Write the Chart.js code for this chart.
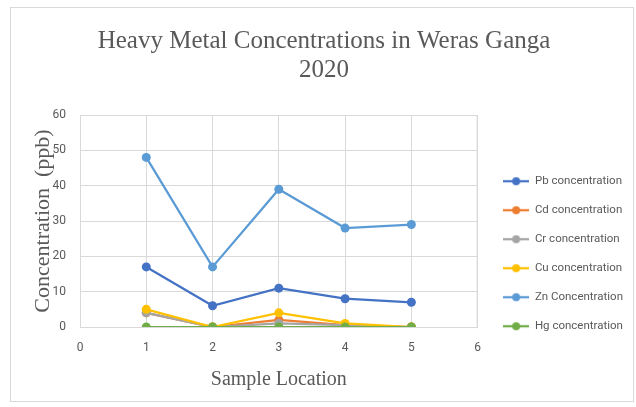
<!DOCTYPE html>
<html>
<head>
<meta charset="utf-8">
<script src="https://cdn.jsdelivr.net/npm/chart.js@4/dist/chart.umd.min.js"></script>
<style>
  html, body { margin: 0; padding: 0; background: #ffffff; }
  #frame { position: absolute; left: 10px; top: 7px; width: 622px; height: 393px; border: 1px solid #d9d9d9; }
  #wrap { position: absolute; left: 0; top: 0; width: 636px; height: 407px; }
</style>
</head>
<body>
<div id="frame"></div>
<div id="wrap"><canvas id="c" width="636" height="407"></canvas></div>
<script>
// Sample locations along the river and measured concentrations (ppb)
const locations = [1, 2, 3, 4, 5];
const pb = [17, 6, 11, 8, 7];
const cd = [4, 0, 2, 0.5, 0];
const cr = [4, 0, 1, 0.5, 0];
const cu = [5, 0, 4, 1, 0];
const zn = [48, 17, 39, 28, 29];
const hg = [0, 0, 0, 0, 0];

const seriesNames = ['Pb concentration', 'Cd concentration', 'Cr concentration',
                     'Cu concentration', 'Zn Concentration', 'Hg concentration'];
const seriesValues = [pb, cd, cr, cu, zn, hg];
const seriesColors = ['#4472C4', '#ED7D31', '#A5A5A5', '#FFC000', '#5B9BD5', '#70AD47'];

const xTicks = [0, 1, 2, 3, 4, 5, 6];
const yTicks = [0, 10, 20, 30, 40, 50, 60];

const sans = "'Roboto', 'Liberation Sans', sans-serif";
const serif = "'Liberation Serif', 'DejaVu Serif', serif";
const tickFont = { family: sans, size: 12 };

// Legend swatch: a short line with a dot in the middle
function swatch(color) {
  const cv = document.createElement('canvas');
  cv.width = 26; cv.height = 10;
  const g = cv.getContext('2d');
  g.strokeStyle = color; g.lineWidth = 2.25;
  g.beginPath(); g.moveTo(0, 5); g.lineTo(26, 5); g.stroke();
  g.fillStyle = color;
  g.beginPath(); g.arc(13, 5, 4, 0, Math.PI * 2); g.fill();
  return cv;
}

const datasets = seriesNames.map((name, i) => ({
  label: name,
  data: locations.map((x, k) => ({ x: x, y: seriesValues[i][k] })),
  borderColor: seriesColors[i],
  backgroundColor: seriesColors[i],
  borderWidth: 2.25,
  pointRadius: 4.5,
  pointHoverRadius: 4.5,
  pointBorderWidth: 0,
  pointStyle: 'circle',
  order: seriesNames.length - i,
  tension: 0
}));

new Chart(document.getElementById('c'), {
  type: 'line',
  data: { datasets },
  options: {
    responsive: false,
    animation: false,
    layout: { padding: { left: 23, right: 11, top: 8, bottom: 12 } },
    plugins: {
      title: {
        display: true,
        text: ['Heavy Metal Concentrations in Weras Ganga', '2020'],
        color: '#595959',
        font: { family: serif, size: 25, weight: 'normal', lineHeight: 1.16 },
        padding: { top: 19, bottom: 30 }
      },
      legend: {
        position: 'right',
        align: 'start',
        fullSize: false,
        labels: {
          usePointStyle: true,
          pointStyleWidth: 26,
          padding: 17.5,
          color: '#595959',
          font: { family: sans, size: 11.5 },
          generateLabels: (chart) => chart.data.datasets.map((ds, i) => ({
            text: ds.label,
            fillStyle: ds.borderColor,
            strokeStyle: ds.borderColor,
            lineWidth: 0,
            pointStyle: swatch(ds.borderColor),
            hidden: false,
            datasetIndex: i,
            fontColor: '#595959'
          }))
        }
      },
      tooltip: { enabled: false }
    },
    scales: {
      x: {
        type: 'linear',
        min: 0, max: 6,
        afterBuildTicks: (s) => { s.ticks = xTicks.map(v => ({ value: v })); },
        afterFit: (s) => { s.height = 68; },
        ticks: { color: '#595959', font: tickFont, padding: 14 },
        grid: { color: '#d9d9d9', lineWidth: 1, drawTicks: false },
        border: { color: '#d9d9d9' },
        title: {
          display: true, text: 'Sample Location', color: '#595959',
          font: { family: serif, size: 20 }, padding: { top: 0, bottom: 3 }
        }
      },
      y: {
        min: 0, max: 60,
        afterBuildTicks: (s) => { s.ticks = yTicks.map(v => ({ value: v })); },
        afterFit: (s) => { s.width = 57; },
        ticks: { color: '#595959', font: tickFont, padding: 14 },
        grid: { color: '#d9d9d9', lineWidth: 1, drawTicks: false },
        border: { color: '#d9d9d9' },
        title: {
          display: true, text: 'Concentration  (ppb)', color: '#595959',
          font: { family: serif, size: 22 }, padding: { top: 7, bottom: 0 }
        }
      }
    }
  },
  plugins: [{
    // place the legend column beside the plot, its last entry level with the base line
    id: 'legendPlacement',
    afterLayout(chart) {
      const lg = chart.legend, a = chart.chartArea;
      const dx = a.right + 8 - lg.left;
      lg.left += dx; lg.right += dx;
      const h = lg.bottom - lg.top;
      lg.top = a.top + 43; lg.bottom = lg.top + h;
    }
  }, {
    id: 'plotFrame',
    afterDraw(chart) {
      const { ctx, chartArea: a } = chart;
      ctx.save();
      ctx.strokeStyle = '#d9d9d9'; ctx.lineWidth = 1;
      ctx.beginPath();
      ctx.moveTo(a.left, a.top + 0.5); ctx.lineTo(a.right, a.top + 0.5);
      ctx.moveTo(a.right - 0.5, a.top); ctx.lineTo(a.right - 0.5, a.bottom);
      ctx.stroke();
      ctx.restore();
    }
  }]
});
</script>
</body>
</html>
